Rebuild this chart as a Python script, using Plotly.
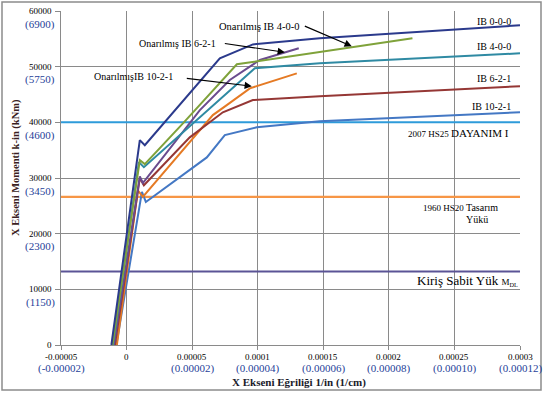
import plotly.graph_objects as go

# ---------------- data ----------------
ib000_x = [-1.16e-5, 1.01e-5, 1.39e-5, 4.06e-5, 7.11e-5, 9.63e-5, 1.473e-4, 3.0e-4]
ib000_y = [0, 36800, 35900, 43260, 51500, 54000, 55100, 57440]

onr400_x = [-1.08e-5, 1.01e-5, 1.39e-5, 4.37e-5, 8.41e-5, 1.473e-4, 2.18e-4]
onr400_y = [0, 33200, 32500, 40000, 50440, 52600, 55100]

ib400_x = [-1.04e-5, 9.4e-6, 1.32e-5, 9.78e-5, 1.473e-4, 3.0e-4]
ib400_y = [0, 32850, 31950, 49700, 50600, 52400]

onr621_x = [-9.7e-6, 1.01e-5, 1.24e-5, 5.59e-5, 7.87e-5, 1.016e-4, 1.313e-4]
onr621_y = [0, 30300, 29100, 42200, 47600, 51200, 53300]

ib621_x = [-8.9e-6, 1.01e-5, 1.32e-5, 4.82e-5, 7.34e-5, 9.63e-5, 1.473e-4, 3.0e-4]
ib621_y = [0, 29980, 28700, 37300, 41800, 44000, 44700, 46500]

onr1021_x = [-7.4e-6, 8.6e-6, 1.24e-5, 6.58e-5, 7.64e-5, 9.40e-5, 1.298e-4]
onr1021_y = [0, 27800, 26600, 41300, 43100, 46100, 48800]

ib1021_x = [-7.8e-6, 1.17e-5, 1.47e-5, 6.12e-5, 7.49e-5, 9.93e-5, 1.473e-4, 3.0e-4]
ib1021_y = [0, 27500, 25700, 33700, 37700, 39100, 40200, 41800]

hs25_level = 40000
hs20_level = 26600
mdl_level = 13200

x_range = [-0.00005, 0.0003]
y_range = [0, 60000]

x_tickvals = [-0.00005, 0, 0.00005, 0.0001, 0.00015, 0.0002, 0.00025, 0.0003]
x_ticktop = ["-0.00005", "0", "0.00005", "0.0001", "0.00015", "0.0002", "0.00025", "0.0003"]
x_tickbot = ["(-0.00002)", "", "(0.00002)", "(0.00004)", "(0.00006)", "(0.00008)", "(0.00010)", "(0.00012)"]

y_tickvals = [0, 10000, 20000, 30000, 40000, 50000, 60000]
y_ticktop = ["0", "10000", "20000", "30000", "40000", "50000", "60000"]
y_tickbot = ["", "(1150)", "(2300)", "(3450)", "(4600)", "(5750)", "(6900)"]

# ---------------- figure ----------------
SERIF = "Liberation Serif, Times New Roman, serif"
LBLUE = "#1F3F99"

fig = go.Figure()

def add_line(x, y, color, width=2):
    fig.add_trace(go.Scatter(x=x, y=y, mode="lines",
                             line=dict(color=color, width=width),
                             showlegend=False, hoverinfo="skip"))

# horizontal reference lines
add_line(x_range, [mdl_level, mdl_level], "#5B5496", 2.2)
add_line(x_range, [hs20_level, hs20_level], "#F79646", 2.2)
add_line(x_range, [hs25_level, hs25_level], "#2E9BDA", 2)

# curves
add_line(ib1021_x, ib1021_y, "#4478C4")
add_line(onr1021_x, onr1021_y, "#E57A24")
add_line(ib621_x, ib621_y, "#953735")
add_line(onr621_x, onr621_y, "#6A4B8E")
add_line(ib400_x, ib400_y, "#2F8AA3")
add_line(onr400_x, onr400_y, "#7FA23A")
add_line(ib000_x, ib000_y, "#2B3A8C")

fig.update_xaxes(range=x_range, tickvals=x_tickvals, showticklabels=False,
                 showgrid=True, gridcolor="#8A8A8A", gridwidth=1,
                 showline=True, linecolor="#8A8A8A", linewidth=1,
                 ticks="outside", ticklen=4, tickcolor="#8A8A8A",
                 zeroline=False, fixedrange=True)
fig.update_yaxes(range=y_range, tickvals=y_tickvals, showticklabels=False,
                 showgrid=True, gridcolor="#8A8A8A", gridwidth=1,
                 showline=True, linecolor="#8A8A8A", linewidth=1,
                 ticks="outside", ticklen=5, tickcolor="#8A8A8A",
                 zeroline=False, fixedrange=True)

ann = []
# y tick labels
for v, t, b in zip(y_tickvals, y_ticktop, y_tickbot):
    ann.append(dict(xref="paper", yref="y", x=-0.016, y=v, text=t, showarrow=False,
                    xanchor="right", yanchor="middle", font=dict(family=SERIF, size=9, color="#000")))
    if b:
        ann.append(dict(xref="paper", yref="y", x=-0.009, y=v, yshift=-13, text=b, showarrow=False,
                        xanchor="right", yanchor="middle", font=dict(family=SERIF, size=11, color=LBLUE)))
# x tick labels
for v, t, b in zip(x_tickvals, x_ticktop, x_tickbot):
    ann.append(dict(xref="x", yref="paper", x=v, y=0, yshift=-12, text=t, showarrow=False,
                    xanchor="center", yanchor="middle", font=dict(family=SERIF, size=9, color="#000")))
    if b:
        ann.append(dict(xref="x", yref="paper", x=v, y=0, yshift=-23, text=b, showarrow=False,
                        xanchor="center", yanchor="middle", font=dict(family=SERIF, size=11, color=LBLUE)))

# axis titles
ann.append(dict(xref="paper", yref="paper", x=(299 - 61) / 459, y=0, yshift=-37,
                text="<b>X Ekseni Eğriliği 1/in (1/cm)</b>", showarrow=False,
                xanchor="center", yanchor="middle", font=dict(family=SERIF, size=11, color="#1a1a2a")))
ann.append(dict(xref="paper", yref="paper", x=(16 - 61) / 459, y=(345 - 168) / 334,
                text="<b>X Ekseni Momenti k-in (kNm)</b>", showarrow=False, textangle=-90,
                xanchor="center", yanchor="middle", font=dict(family=SERIF, size=10.5, color="#3a1e22")))

# series labels
def txt(x, y, text, size=10, xanchor="right"):
    ann.append(dict(xref="x", yref="y", x=x, y=y, text=text, showarrow=False,
                    xanchor=xanchor, yanchor="middle", font=dict(family=SERIF, size=size, color="#000")))

txt(2.95e-4, 58200, "IB 0-0-0")
txt(2.95e-4, 53600, "IB 4-0-0")
txt(2.95e-4, 47930, "IB 6-2-1")
txt(2.95e-4, 42900, "IB 10-2-1")
txt(2.93e-4, 38050, "2007 HS25 <span style='font-size:11px'>DAYANIM I</span>", size=9)
txt(2.85e-4, 24770, "1960 HS20 <span style='font-size:10px'>Tasarım</span>", size=9)
txt(2.67e-4, 22550, "Yükü", size=10, xanchor="center")
txt(3.0e-4, 11600, "Kiriş Sabit Yük <span style='font-size:9px'>M<sub>DL</sub></span>", size=13)

txt(1.338e-4, 57260, "Onarılmış IB 4-0-0", size=10.5)
txt(6.97e-5, 54210, "Onarılmış IB 6-2-1", size=10)
txt(3.68e-5, 48290, "OnarılmışIB 10-2-1", size=10)

# arrows
def arrow(tx, ty, hx, hy):
    ann.append(dict(xref="x", yref="y", axref="x", ayref="y", x=hx, y=hy, ax=tx, ay=ty,
                    text=" ", showarrow=True, arrowhead=2, arrowsize=1.2, arrowwidth=1.2,
                    arrowcolor="#000", standoff=0, startstandoff=0,
                    font=dict(family=SERIF, size=2)))

arrow(1.344e-4, 57440, 1.717e-4, 53670)
arrow(7.34e-5, 54210, 1.207e-4, 52590)
arrow(4.44e-5, 47930, 9.55e-5, 46490)

fig.update_layout(
    width=544, height=393,
    margin=dict(l=61, r=24, t=11, b=48),
    paper_bgcolor="white", plot_bgcolor="white",
    showlegend=False,
    annotations=ann,
    shapes=[dict(type="rect", xref="paper", yref="paper",
                 x0=(2 - 61) / 459, x1=(541 - 61) / 459,
                 y0=(345 - 390) / 334, y1=(345 - 2) / 334,
                 line=dict(color="#8C8C8C", width=1.5), fillcolor="rgba(0,0,0,0)", layer="above")],
)

fig.write_html("out.html", config={"displayModeBar": False},
               post_script="document.body.style.margin='0';document.body.style.overflow='hidden';")
